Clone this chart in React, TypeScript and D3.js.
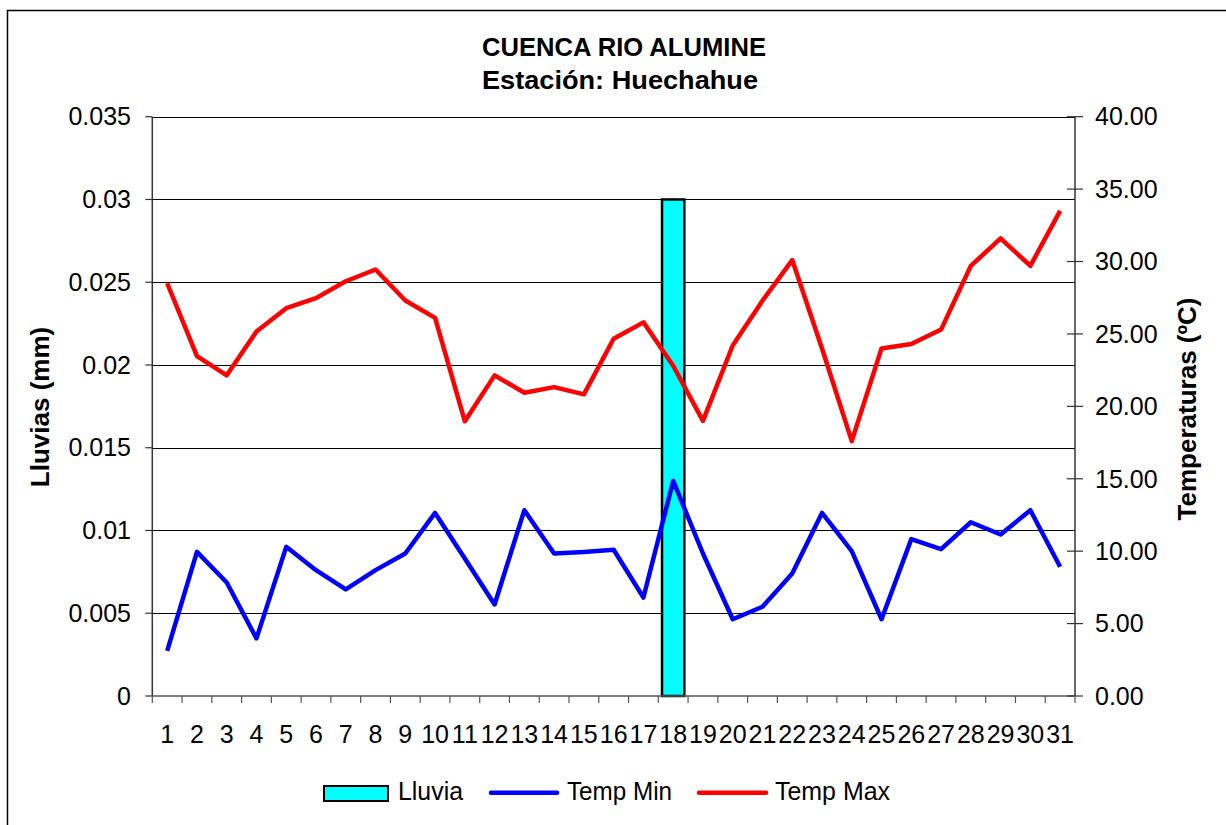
import React from 'react';
import * as d3 from 'd3';

// daily data, Huechahue station
const DAYS = ['1', '2', '3', '4', '5', '6', '7', '8', '9', '10', '11', '12', '13', '14', '15', '16',
  '17', '18', '19', '20', '21', '22', '23', '24', '25', '26', '27', '28', '29', '30', '31'];
const LLUVIA = [0, 0, 0, 0, 0, 0, 0, 0, 0, 0, 0, 0, 0, 0, 0, 0, 0, 0.03, 0, 0, 0, 0, 0, 0, 0, 0, 0, 0, 0, 0, 0];
const TEMP_MIN = [3.12, 9.95, 7.84, 3.98, 10.3, 8.69, 7.36, 8.69, 9.84, 12.64, 9.5, 6.32, 12.83, 9.84, 9.95, 10.1,
  6.8, 14.85, 9.84, 5.3, 6.16, 8.46, 12.64, 10.0, 5.3, 10.83, 10.14, 12.0, 11.15, 12.83, 8.92];
const TEMP_MAX = [28.5, 23.47, 22.14, 25.17, 26.78, 27.47, 28.64, 29.45, 27.31, 26.11, 18.97, 22.14, 20.94, 21.33, 20.83, 24.67,
  25.8, 22.8, 19.0, 24.2, 27.3, 30.1, 24.0, 17.6, 24.0, 24.3, 25.3, 29.7, 31.6, 29.7, 33.5];
const LEFT_TICKS = [0, 0.005, 0.01, 0.015, 0.02, 0.025, 0.03, 0.035];
const RIGHT_TICKS = [0, 5, 10, 15, 20, 25, 30, 35, 40];

const W = 1226;
const H = 825;
const FONT = '"Liberation Sans", Arial, sans-serif';

export default function App() {
  const left = 152.3;
  const right = 1075;
  const top = 116.7;
  const bottom = 696;

  const x = d3.scaleBand<string>().domain(DAYS).range([left, right]).padding(0);
  const bw = x.bandwidth();
  const yL = d3.scaleLinear().domain([0, 0.035]).range([bottom, top]);
  const yR = d3.scaleLinear().domain([0, 40]).range([bottom, top]);

  const cx = (i: number) => (x(DAYS[i]) as number) + bw / 2;
  const line = d3.line<number>().x((_, i) => cx(i)).y(d => yR(d));

  // category boundaries for the x ticks
  const bounds = DAYS.map(d => x(d) as number).concat([right]);

  return (
    <svg width={W} height={H} style={{ position: 'absolute', left: 0, top: 0, background: '#fff' }}
      fontFamily={FONT}>
      <rect x={7.5} y={10.5} width={1300} height={900} fill="#fff" stroke="#000" strokeWidth={1.5} />

      {/* title */}
      <text x={624} y={56} textAnchor="middle" fontSize={26} fontWeight="bold" textLength={284}
        lengthAdjust="spacingAndGlyphs">CUENCA RIO ALUMINE</text>
      <text x={620} y={89} textAnchor="middle" fontSize={26} fontWeight="bold" textLength={276}
        lengthAdjust="spacingAndGlyphs">Estación: Huechahue</text>

      {/* gridlines */}
      {LEFT_TICKS.filter(t => t > 0).map(t => (
        <line key={'g' + t} x1={left} x2={right} y1={Math.round(yL(t)) + 0.5} y2={Math.round(yL(t)) + 0.5}
          stroke="#000" strokeWidth={1} />
      ))}

      {/* bars */}
      {LLUVIA.map((v, i) => v > 0 ? (
        <rect key={'b' + i} x={(x(DAYS[i]) as number) + bw * 0.125} width={bw * 0.75}
          y={yL(v)} height={bottom - yL(v)} fill="#00FFFF" stroke="#000" strokeWidth={2.5} />
      ) : null)}

      {/* lines */}
      <path d={line(TEMP_MIN) || ''} fill="none" stroke="#0000FF" strokeWidth={4.5} strokeLinejoin="round" />
      <path d={line(TEMP_MAX) || ''} fill="none" stroke="#FF0000" strokeWidth={4.5} strokeLinejoin="round" />

      {/* axes */}
      <line x1={left} x2={left} y1={top} y2={bottom} stroke="#333" strokeWidth={1.5} />
      <line x1={right} x2={right} y1={top} y2={bottom} stroke="#333" strokeWidth={1.5} />
      <line x1={left} x2={right} y1={bottom} y2={bottom} stroke="#555" strokeWidth={1.5} />

      {LEFT_TICKS.map(t => (
        <g key={'l' + t}>
          <line x1={left - 7} x2={left} y1={yL(t)} y2={yL(t)} stroke="#333" strokeWidth={1.2} />
          <text x={131} y={yL(t)} dy="0.35em" textAnchor="end" fontSize={25}>{String(t)}</text>
        </g>
      ))}
      {RIGHT_TICKS.map(t => (
        <g key={'r' + t}>
          <line x1={right - 8} x2={right + 8} y1={yR(t)} y2={yR(t)} stroke="#333" strokeWidth={1.2} />
          <text x={1095} y={yR(t)} dy="0.35em" textAnchor="start" fontSize={25}>{t.toFixed(2)}</text>
        </g>
      ))}
      {bounds.map((b, i) => (
        <line key={'t' + i} x1={b} x2={b} y1={bottom} y2={bottom + 7} stroke="#555" strokeWidth={1.2} />
      ))}
      {DAYS.map((d, i) => (
        <text key={'x' + d} x={cx(i)} y={743} textAnchor="middle" fontSize={25}>{d}</text>
      ))}

      {/* axis titles */}
      <text transform={`translate(42,407) rotate(-90)`} textAnchor="middle" dominantBaseline="middle"
        fontSize={26} fontWeight="bold">Lluvias (mm)</text>
      <text transform={`translate(1189,409) rotate(-90)`} textAnchor="middle" dominantBaseline="middle"
        fontSize={26} fontWeight="bold">Temperaturas (ºC)</text>

      {/* legend */}
      <rect x={324} y={786} width={64} height={15} fill="#00FFFF" stroke="#000" strokeWidth={2} />
      <text x={398} y={800} fontSize={25} textLength={65} lengthAdjust="spacingAndGlyphs">Lluvia</text>
      <line x1={491} x2={557} y1={792.7} y2={792.7} stroke="#0000FF" strokeWidth={4.5} strokeLinecap="round" />
      <text x={567} y={800} fontSize={25} textLength={105} lengthAdjust="spacingAndGlyphs">Temp Min</text>
      <line x1={699} x2={766} y1={792.7} y2={792.7} stroke="#FF0000" strokeWidth={4.5} strokeLinecap="round" />
      <text x={775} y={800} fontSize={25} textLength={115} lengthAdjust="spacingAndGlyphs">Temp Max</text>
    </svg>
  );
}
